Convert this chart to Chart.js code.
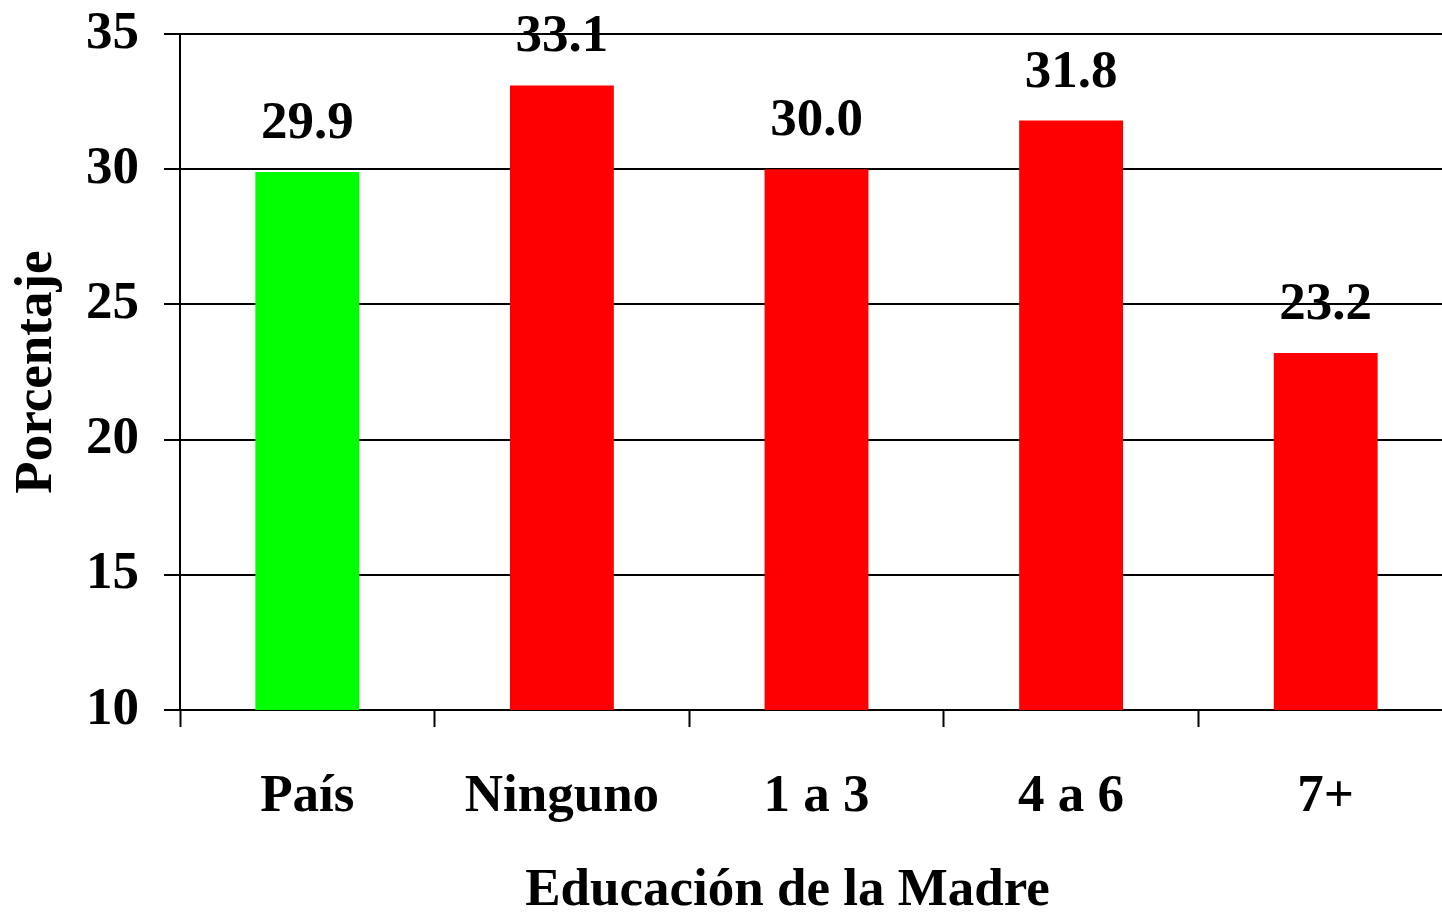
<!DOCTYPE html>
<html>
<head>
<meta charset="utf-8">
<script src="https://cdn.jsdelivr.net/npm/chart.js@4.4.0/dist/chart.umd.min.js"></script>
<style>
  html, body { margin: 0; padding: 0; background: #fff; overflow: hidden; }
  #wrap { position: relative; width: 1453px; height: 915px; }
</style>
</head>
<body>
<div id="wrap"><canvas id="c"></canvas></div>
<script>
const categories = ["País", "Ninguno", "1 a 3", "4 a 6", "7+"];
const values = [29.9, 33.1, 30.0, 31.8, 23.2];
const barColors = ["#00FF00", "#FF0000", "#FF0000", "#FF0000", "#FF0000"];
const yTicks = [10, 15, 20, 25, 30, 35];
const xTitle = "Educación de la Madre";
const yTitle = "Porcentaje";

const FONT = "'Liberation Serif', 'Times New Roman', serif";
const FS = 53;

const valueLabels = {
  id: 'valueLabels',
  afterDatasetsDraw(chart) {
    const ctx = chart.ctx;
    const meta = chart.getDatasetMeta(0);
    ctx.save();
    ctx.font = "bold " + FS + "px " + FONT;
    ctx.fillStyle = "#000";
    ctx.textAlign = "center";
    ctx.textBaseline = "alphabetic";
    meta.data.forEach((el, i) => {
      ctx.fillText(values[i].toFixed(1), el.x, el.y - 34);
    });
    ctx.restore();
  }
};

const xAxisTitle = {
  id: 'xAxisTitle',
  afterDraw(chart) {
    const ctx = chart.ctx;
    const a = chart.chartArea;
    ctx.save();
    ctx.font = "bold " + FS + "px " + FONT;
    ctx.fillStyle = "#000";
    ctx.textAlign = "center";
    ctx.textBaseline = "alphabetic";
    ctx.fillText(xTitle, (a.left + a.right) / 2 - 29, chart.height - 10);
    ctx.restore();
  }
};

new Chart(document.getElementById('c'), {
  type: 'bar',
  data: {
    labels: categories,
    datasets: [{
      data: values,
      backgroundColor: barColors,
      borderWidth: 0,
      barPercentage: 0.408,
      categoryPercentage: 1.0
    }]
  },
  options: {
    responsive: true,
    maintainAspectRatio: false,
    animation: false,
    devicePixelRatio: 1,
    layout: { padding: { top: 34, right: 0, left: 0, bottom: 0 } },
    plugins: {
      legend: { display: false },
      tooltip: { enabled: false }
    },
    scales: {
      x: {
        afterFit(scale) { scale.height = 205; scale.paddingLeft = 0; scale.paddingRight = 0; },
        grid: {
          display: true,
          drawOnChartArea: false,
          drawTicks: true,
          tickLength: 17,
          tickWidth: 2,
          tickColor: "#000",
          offset: true
        },
        border: { display: true, color: "#000", width: 2 },
        ticks: {
          color: "#000",
          font: { family: FONT, size: FS, weight: 'bold' },
          padding: 39,
          maxRotation: 0,
          autoSkip: false
        },
        title: { display: false, text: xTitle }
      },
      y: {
        min: 10,
        max: 35,
        afterFit(scale) { scale.width = 180; scale.paddingTop = 0; scale.paddingBottom = 0; },
        afterBuildTicks(scale) { scale.ticks = yTicks.map(v => ({ value: v })); },
        grid: {
          display: true,
          color: "#000",
          lineWidth: 2,
          drawTicks: true,
          tickLength: 16,
          tickWidth: 2,
          tickColor: "#000"
        },
        border: { display: true, color: "#000", width: 2 },
        ticks: {
          color: "#000",
          font: { family: FONT, size: FS, weight: 'bold' },
          padding: 25
        },
        title: {
          display: true,
          text: yTitle,
          color: "#000",
          font: { family: FONT, size: FS, weight: 'bold', lineHeight: 1.0 },
          padding: { top: 11, bottom: 0 }
        }
      }
    }
  },
  plugins: [valueLabels, xAxisTitle]
});
</script>
</body>
</html>
